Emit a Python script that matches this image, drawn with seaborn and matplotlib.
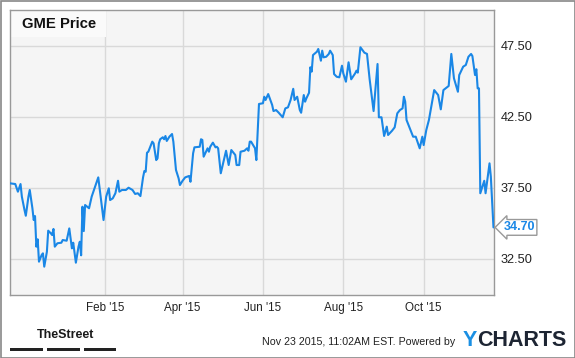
import matplotlib
matplotlib.use("Agg")
import matplotlib.pyplot as plt
import matplotlib.transforms as mtransforms
from matplotlib.patches import Rectangle
import seaborn as sns
import pandas as pd

# ---------------- data ----------------
start_date = "2014-11-21"
day_offsets = [
    0, 4, 6, 8, 9, 11, 12, 14, 15, 17,
    18, 19, 20, 21, 22, 24, 25, 26, 28, 29,
    31, 32, 33, 34, 36, 39, 40, 43, 45, 47,
    48, 50, 52, 53, 54, 55, 56, 57, 60, 62,
    65, 67, 71, 73, 75, 76, 78, 80, 82, 83,
    85, 88, 90, 93, 95, 97, 99, 101, 102, 103,
    104, 105, 106, 108, 109, 111, 112, 113, 114, 116,
    117, 118, 119, 121, 123, 124, 126, 128, 129, 131,
    133, 136, 137, 139, 140, 144, 145, 146, 147, 150,
    151, 152, 154, 156, 157, 158, 160, 163, 164, 166,
    168, 171, 172, 174, 175, 178, 180, 181, 182, 183,
    185, 186, 187, 189, 192, 193, 194, 196, 199, 200,
    202, 204, 207, 209, 211, 213, 215, 216, 218, 220,
    221, 223, 224, 225, 227, 228, 229, 230, 233, 234,
    236, 237, 238, 240, 242, 243, 245, 246, 248, 250,
    252, 253, 255, 257, 259, 262, 263, 264, 266, 269,
    271, 273, 276, 279, 280, 282, 284, 286, 287, 290,
    292, 294, 296, 298, 299, 300, 301, 303, 306, 308,
    311, 313, 314, 316, 318, 320, 322, 325, 327, 329,
    333, 335, 337, 340, 341, 344, 346, 348, 350, 351,
    353, 354, 355, 356, 357, 360, 361, 364, 365, 367,
]
prices = [
    37.81, 37.76, 37.22, 37.76, 36.87, 35.93, 35.52, 36.87, 37.34, 36.05,
    35.22, 35.50, 33.34, 33.86, 32.28, 32.75, 32.87, 31.93, 32.98, 34.47,
    34.28, 34.16, 34.59, 33.34, 33.58, 33.62, 33.81, 33.76, 34.63, 33.22,
    33.62, 32.21, 33.34, 33.69, 32.73, 36.16, 34.44, 36.28, 36.05, 36.87,
    37.69, 38.23, 35.22, 36.87, 37.46, 36.63, 36.75, 37.11, 37.99, 37.22,
    37.34, 37.34, 37.50, 37.34, 37.06, 37.11, 36.91, 38.23, 38.68, 38.63,
    39.97, 40.04, 40.28, 40.75, 40.63, 39.45, 39.58, 40.63, 40.92, 41.06,
    40.92, 41.15, 40.80, 41.10, 41.29, 40.75, 38.75, 38.16, 37.69, 37.99,
    38.23, 38.33, 37.92, 39.93, 40.35, 40.39, 40.92, 40.87, 39.69, 40.28,
    40.04, 40.39, 40.68, 40.35, 40.39, 40.28, 38.52, 39.69, 40.11, 39.10,
    40.16, 39.81, 39.10, 39.10, 40.04, 40.11, 40.28, 40.11, 40.75, 40.75,
    40.44, 40.28, 39.45, 43.41, 43.46, 43.92, 43.69, 44.11, 43.34, 42.91,
    42.98, 42.79, 42.47, 43.10, 43.17, 43.69, 44.48, 43.69, 43.92, 42.98,
    42.79, 44.04, 43.57, 43.81, 44.20, 46.00, 45.69, 46.86, 47.10, 47.29,
    46.46, 47.17, 46.70, 46.74, 46.94, 47.17, 46.86, 45.52, 45.33, 45.29,
    46.11, 45.57, 44.98, 46.35, 45.15, 45.57, 45.76, 45.62, 47.41, 47.03,
    46.94, 45.15, 42.91, 46.23, 42.47, 42.47, 41.15, 41.81, 41.22, 41.52,
    41.76, 42.75, 42.98, 43.10, 43.92, 43.57, 42.28, 41.81, 41.10, 41.10,
    40.28, 41.10, 40.51, 41.57, 42.28, 43.34, 44.39, 44.04, 43.03, 44.39,
    44.68, 46.94, 45.22, 44.27, 45.45, 46.04, 46.16, 46.74, 46.94, 46.79,
    45.45, 45.86, 44.51, 44.51, 37.11, 37.99, 37.11, 39.22, 38.28, 34.70,
]
title = "GME Price"
y_ticks = [32.5, 37.5, 42.5, 47.5]
x_tick_dates = ["2015-02-01", "2015-04-01", "2015-06-01", "2015-08-01", "2015-10-01"]
x_tick_labels = ["Feb '15", "Apr '15", "Jun '15", "Aug '15", "Oct '15"]
last_value = prices[-1]
footer_text = "Nov 23 2015, 11:02AM EST. Powered by"
brand_a = "Y"
brand_b = "CHARTS"
logo_text = "TheStreet"

# ---------------- style ----------------
sns.set_style("white")
plt.rcParams["font.family"] = ["Liberation Sans", "DejaVu Sans"]

W, H = 575, 358
line_color = "#1a87e6"

dates = pd.Timestamp(start_date) + pd.to_timedelta(day_offsets, unit="D")
df = pd.DataFrame({"date": dates, "price": prices})

fig = plt.figure(figsize=(W / 100, H / 100), dpi=100)
fig.patch.set_facecolor("white")
ax = fig.add_axes([10 / W, 1 - 295 / H, 484 / W, 285 / H])
ax.set_facecolor("#f5f5f5")

sns.lineplot(data=df, x="date", y="price", ax=ax, color=line_color,
             linewidth=1.5, zorder=3)

ax.set_xlim(pd.Timestamp(start_date), pd.Timestamp(start_date) + pd.Timedelta(days=367.4))
ax.set_ylim(29.93, 50.04)

ax.set_xticks(pd.to_datetime(x_tick_dates))
ax.set_xticklabels(x_tick_labels, fontsize=8.4, color="#222222")
ax.yaxis.tick_right()
ax.set_yticks(y_ticks)
ax.set_yticklabels([f"{v:.2f}" for v in y_ticks], fontsize=9.2, color="#222222")
ax.tick_params(axis="both", length=0)
ax.tick_params(axis="y", pad=5)
ax.tick_params(axis="x", pad=5)
ax.set_xlabel("")
ax.set_ylabel("")

ax.grid(True, color="#d9d9d9", linewidth=1)
ax.set_axisbelow(True)
for s in ax.spines.values():
    s.set_visible(True)
    s.set_color("#999999")
    s.set_linewidth(1)

# title box
ax.add_patch(Rectangle((10.5 / W, 1 - 37 / H), 95 / W, 26.5 / H,
                       transform=fig.transFigure, facecolor="#fafafa",
                       edgecolor="none", zorder=1.5))
fig.text(22 / W, 1 - 23.5 / H, title, fontsize=10.7, fontweight="bold",
         color="#111111", ha="left", va="center")

# last value label
trans = mtransforms.blended_transform_factory(ax.transAxes, ax.transData)
ax.text(1.0 + 9.5 / 484, last_value, f"{last_value:.2f}", transform=trans,
        fontsize=9, fontweight="bold", color=line_color, ha="left", va="center",
        clip_on=False,
        bbox=dict(boxstyle="larrow,pad=0.15", facecolor="white",
                  edgecolor="#999999", linewidth=1))

# footer
fig.text(262 / W, 1 - 342 / H, footer_text, fontsize=7.7, color="#222222",
         ha="left", va="center")
ty = fig.text(463 / W, 1 - 340 / H, brand_a, fontsize=15.5, fontweight="bold",
              color="#1a8fe3", ha="left", va="center")
fig.canvas.draw()
bb = ty.get_window_extent()
fig.text(bb.x1 / W, 1 - 340 / H, brand_b, fontsize=15.5, fontweight="bold",
         color="#1d2533", ha="left", va="center")

fig.text(37 / W, 1 - 335 / H, logo_text, fontsize=9, fontweight="bold",
         color="#1a1a1a", ha="left", va="center")
for x0, x1 in [(10, 43), (47, 79.5), (83.5, 116)]:
    fig.patches.append(Rectangle((x0 / W, 1 - 351 / H), (x1 - x0) / W, 3 / H,
                                 transform=fig.transFigure, facecolor="#222222",
                                 edgecolor="none"))

# outer frame
fig.patches.append(Rectangle((0.5 / W, 0.5 / H), (W - 1) / W, (H - 1) / H,
                             transform=fig.transFigure, fill=False,
                             edgecolor="#888888", linewidth=1.2))

fig.savefig("out.png", dpi=100)
